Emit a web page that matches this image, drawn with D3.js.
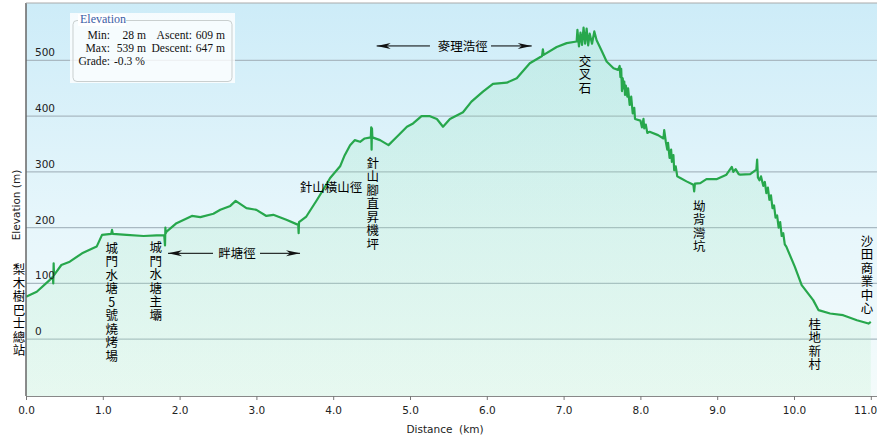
<!DOCTYPE html>
<html>
<head>
<meta charset="utf-8">
<script src="https://cdn.jsdelivr.net/npm/d3@7"></script>
<style>
  body { margin: 0; background: #fff; }
  svg { display: block; }
</style>
</head>
<body>
<svg id="chart" width="877" height="442"></svg>
<script>
// distance along the route (km) and elevation (m), read from the profile
const distKm = [
  0.00, 0.14, 0.30, 0.35, 0.355, 0.36, 0.365, 0.46, 0.57, 0.73, 0.92, 0.99, 1.11, 1.12, 1.13, 1.31, 1.53, 1.70,
  1.80, 1.81, 1.815, 1.82, 1.83, 1.96, 2.16, 2.27, 2.44, 2.53, 2.66, 2.73, 2.87, 3.00, 3.13, 3.22, 3.39,
  3.545, 3.55, 3.555, 3.65, 3.79, 3.87, 3.96, 4.09, 4.15, 4.22, 4.28, 4.35, 4.41,
  4.49, 4.495, 4.50, 4.505, 4.51, 4.61, 4.72, 4.83, 4.96, 5.04, 5.15, 5.26, 5.35, 5.43, 5.52, 5.69, 5.80, 5.95,
  6.08, 6.26, 6.39, 6.56, 6.72, 6.73, 6.74, 6.91, 7.04, 7.17,
  7.18, 7.20, 7.22, 7.24, 7.26, 7.28, 7.30, 7.32, 7.34, 7.37, 7.40, 7.43, 7.50, 7.56, 7.65, 7.71,
  7.73, 7.74, 7.75, 7.76, 7.77, 7.78, 7.79, 7.80, 7.81, 7.83, 7.84, 7.86, 7.88, 7.90, 7.92, 7.93,
  8.00, 8.02, 8.04, 8.05, 8.07, 8.09, 8.12, 8.23, 8.30, 8.31,
  8.33, 8.35, 8.36, 8.38, 8.40, 8.41, 8.43, 8.44, 8.46, 8.48, 8.52, 8.60, 8.69, 8.70, 8.71, 8.78, 8.86, 8.99,
  9.12, 9.19, 9.21, 9.24, 9.28, 9.30, 9.43, 9.51, 9.52, 9.53,
  9.55, 9.57, 9.60, 9.62, 9.64, 9.66, 9.68, 9.70, 9.72, 9.74, 9.76, 9.78, 9.80, 9.82, 9.84, 9.86, 9.88, 9.90,
  10.01, 10.10, 10.25, 10.32, 10.47, 10.64, 10.82, 10.97, 11.00];
const elevM = [
  76, 85, 105, 112, 100, 136, 115, 133, 139, 154, 166, 187, 189, 196, 189, 187, 185, 186,
  186, 168, 200, 190, 193, 208, 221, 219, 225, 232, 239, 248, 235, 232, 221, 223, 214,
  205, 190, 210, 220, 250, 268, 289, 310, 330, 348, 357, 354, 360,
  362, 380, 340, 378, 362, 357, 348, 363, 381, 387, 400, 400, 395, 381, 395, 407, 426, 444,
  458, 460, 468, 495, 508, 520, 510, 524, 531, 534,
  555, 525, 550, 528, 559, 530, 557, 527, 548, 530, 552, 536, 516, 498, 486, 483,
  490, 470, 485, 445, 468, 450, 462, 438, 455, 435, 450, 420, 435, 405, 415, 395,
  392, 380, 395, 378, 385, 370, 372, 366, 360, 375,
  355, 340, 352, 325, 340, 318, 330, 303, 310, 292, 289, 283, 277, 265, 279, 280, 287, 287,
  295, 309, 300, 305, 296, 295, 296, 304, 322, 290,
  285, 292, 275, 282, 262, 272, 250, 258, 235, 240, 218, 222, 200, 210, 185, 190, 170, 166,
  130, 97, 70, 52, 46, 43, 34, 28, 31];

const xTicks = [0, 1, 2, 3, 4, 5, 6, 7, 8, 9, 10, 11];
const yTicks = [0, 100, 200, 300, 400, 500];

// place names written down the chart (km, elevation of the first character)
const verticalLabels = [
  { name: "梨木樹巴士總站", km: -0.09, elev: 136 },
  { name: "城門水塘5號燒烤場", km: 1.116, elev: 175 },
  { name: "城門水塘主壩", km: 1.689, elev: 176 },
  { name: "針山腳直昇機坪", km: 4.514, elev: 327 },
  { name: "交叉石", km: 7.279, elev: 510 },
  { name: "坳背灣坑", km: 8.767, elev: 250 },
  { name: "桂地新村", km: 10.27, elev: 38 },
  { name: "沙田商業中心", km: 10.95, elev: 187 }
];
// trail names with arrows (km range of the arrows)
const trailLabels = [
  { name: "畔塘徑", km: 2.747, elev: 145, from: 1.849, to: 3.568, gapL: 2.435, gapR: 3.047 },
  { name: "麥理浩徑", km: 5.686, elev: 517, from: 4.566, to: 6.585, gapL: 5.26, gapR: 6.055 }
];
const plainLabels = [
  { name: "針山橫山徑", km: 3.97, elev: 264 }
];

const svg = d3.select("#chart");
const plotL = 26, plotR = 877, plotT = 3, plotB = 396;

const x = d3.scaleLinear().domain([0, 11]).range([26, 870.8]);
const y = d3.scaleLinear().domain([-102, 603]).range([plotB, plotT]);

const defs = svg.append("defs");
const bg = defs.append("linearGradient").attr("id", "bg").attr("x1", 0).attr("y1", 0).attr("x2", 0).attr("y2", 1);
bg.append("stop").attr("offset", "0%").attr("stop-color", "#cdecf8");
bg.append("stop").attr("offset", "55%").attr("stop-color", "#e6f6fb");
bg.append("stop").attr("offset", "100%").attr("stop-color", "#f4fbfb");
const fill = defs.append("linearGradient").attr("id", "fill").attr("x1", 0).attr("y1", 0).attr("x2", 0).attr("y2", 1);
fill.append("stop").attr("offset", "0%").attr("stop-color", "#7fe0a8").attr("stop-opacity", 0.18);
fill.append("stop").attr("offset", "100%").attr("stop-color", "#b8efc8").attr("stop-opacity", 0.22);

svg.append("rect").attr("x", plotL).attr("y", plotT).attr("width", plotR - plotL).attr("height", plotB - plotT)
  .attr("fill", "url(#bg)");

// grid
svg.append("g").selectAll("line").data(yTicks).enter().append("line")
  .attr("x1", plotL).attr("x2", plotR)
  .attr("y1", d => y(d)).attr("y2", d => y(d))
  .attr("stroke", "#a9b9c2").attr("stroke-width", 1.4);

const pts = distKm.map((d, i) => [d, elevM[i]]);

svg.append("path").datum(pts)
  .attr("fill", "url(#fill)")
  .attr("d", d3.area().x(d => x(d[0])).y0(plotB).y1(d => y(d[1])));

svg.append("path").datum(pts)
  .attr("fill", "none").attr("stroke", "#27a74c").attr("stroke-width", 2.2)
  .attr("stroke-linejoin", "round")
  .attr("d", d3.line().x(d => x(d[0])).y(d => y(d[1])));

// y tick labels inside the plot
svg.append("g").selectAll("text").data(yTicks).enter().append("text")
  .attr("x", 35).attr("y", d => y(d) - 4)
  .attr("font-family", "DejaVu Sans").attr("font-size", 10.5).attr("fill", "#222")
  .text(d => d);

// frame
svg.append("line").attr("x1", plotL).attr("x2", plotL).attr("y1", plotT).attr("y2", plotB)
  .attr("stroke", "#666").attr("stroke-width", 1.5);
svg.append("line").attr("x1", plotL).attr("x2", plotR).attr("y1", plotT).attr("y2", plotT)
  .attr("stroke", "#aaa").attr("stroke-width", 1);

const xAxis = svg.append("g").attr("transform", `translate(0,${plotB})`)
  .call(d3.axisBottom(x).tickValues(xTicks).tickFormat(d3.format(".1f")).tickSize(4).tickPadding(7));
xAxis.select(".domain").attr("stroke", "#888").attr("d", `M${plotL},0.5H${plotR}`);
xAxis.selectAll(".tick line").attr("stroke", "#777");
xAxis.selectAll("text").attr("font-family", "DejaVu Sans").attr("font-size", 10.5).attr("fill", "#222");
// last label is pulled in so it stays inside the picture
xAxis.selectAll(".tick").filter(d => d === 11).select("text").attr("text-anchor", "end").attr("dx", 6);

svg.append("text").attr("x", 445).attr("y", 433).attr("text-anchor", "middle")
  .attr("font-family", "DejaVu Sans").attr("font-size", 10.5).attr("fill", "#222")
  .attr("xml:space", "preserve").text("Distance  (km)");
svg.append("text").attr("transform", "translate(20,205) rotate(-90)").attr("text-anchor", "middle")
  .attr("font-family", "DejaVu Sans").attr("font-size", 10.5).attr("fill", "#222")
  .text("Elevation (m)");

// place names, written top to bottom
const cjk = "'Noto Sans CJK TC', 'Noto Sans CJK SC', sans-serif";
verticalLabels.forEach(l => {
  svg.append("text")
    .attr("x", x(l.km)).attr("y", y(l.elev))
    .style("writing-mode", "vertical-rl").style("text-orientation", "upright")
    .attr("letter-spacing", 1)
    .attr("font-family", cjk).attr("font-size", 12.5).attr("fill", "#000")
    .text(l.name);
});
plainLabels.forEach(l => {
  svg.append("text").attr("x", x(l.km)).attr("y", y(l.elev)).attr("text-anchor", "middle")
    .attr("font-family", cjk).attr("font-size", 12.5).attr("fill", "#000").text(l.name);
});
function arrowHead(xTip, yc, dir) {
  const len = 14, w = 3;
  return `M${xTip},${yc}L${xTip - dir * len},${yc - w}L${xTip - dir * (len - 4)},${yc}L${xTip - dir * len},${yc + w}Z`;
}
trailLabels.forEach(l => {
  const yc = y(l.elev) - 5;
  svg.append("text").attr("x", x(l.km)).attr("y", y(l.elev)).attr("text-anchor", "middle")
    .attr("font-family", cjk).attr("font-size", 12.5).attr("fill", "#000").text(l.name);
  svg.append("line").attr("x1", x(l.from)).attr("x2", x(l.gapL)).attr("y1", yc).attr("y2", yc)
    .attr("stroke", "#000").attr("stroke-width", 1);
  svg.append("line").attr("x1", x(l.gapR)).attr("x2", x(l.to)).attr("y1", yc).attr("y2", yc)
    .attr("stroke", "#000").attr("stroke-width", 1);
  svg.append("path").attr("d", arrowHead(x(l.from), yc, -1)).attr("fill", "#111");
  svg.append("path").attr("d", arrowHead(x(l.to), yc, 1)).attr("fill", "#111");
});

// summary box
const box = svg.append("g");
box.append("rect").attr("x", 70).attr("y", 13).attr("width", 165).attr("height", 70)
  .attr("fill", "#fff").attr("fill-opacity", 0.8);
box.append("rect").attr("x", 73).attr("y", 20.5).attr("width", 159).attr("height", 61).attr("rx", 4)
  .attr("fill", "none").attr("stroke", "#c9cfcf").attr("stroke-width", 1);
box.append("rect").attr("x", 78).attr("y", 14).attr("width", 48).attr("height", 12).attr("fill", "#fff");
const serif = "'Liberation Serif', 'DejaVu Serif', serif";
box.append("text").attr("x", 80).attr("y", 23).attr("font-family", serif).attr("font-size", 12)
  .attr("fill", "#3b5ea6").text("Elevation");
// statistics, each piece right-aligned in its column
const statCells = [
  ["Min:", 110, 38.5, "end"], ["28 m", 146, 38.5, "end"], ["Ascent:", 192, 38.5, "end"], ["609 m", 225, 38.5, "end"],
  ["Max:", 110, 51.5, "end"], ["539 m", 146, 51.5, "end"], ["Descent:", 192, 51.5, "end"], ["647 m", 225, 51.5, "end"],
  ["Grade:", 110, 64.5, "end"], ["-0.3 %", 114, 64.5, "start"]
];
const stats = box.append("text").attr("font-family", serif).attr("font-size", 11.6).attr("fill", "#111");
statCells.forEach(c => {
  stats.append("tspan").attr("x", c[1]).attr("y", c[2]).attr("text-anchor", c[3]).text(c[0]);
});
</script>
</body>
</html>
